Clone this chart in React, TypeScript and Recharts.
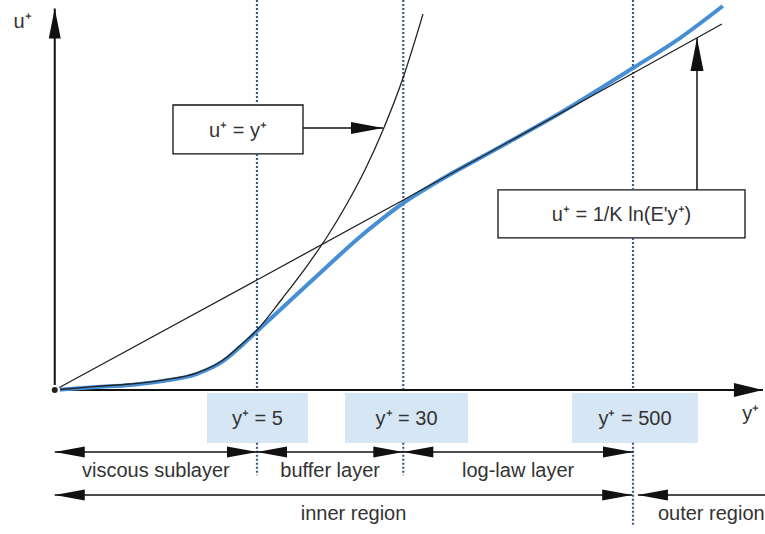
import { ComposedChart, Line, XAxis, YAxis, ReferenceLine, ReferenceArea } from 'recharts'

// y+ where the two axes meet
const ORIGIN = 0.42

// u+ = y+ (viscous sublayer law)
const viscousLaw = [
  { x: ORIGIN, y: 0 }, { x: 0.7, y: 0.3 }, { x: 1.06, y: 0.5 }, { x: 1.58, y: 0.83 },
  { x: 2.4, y: 1.42 }, { x: 3.3, y: 2.5 }, { x: 4.21, y: 3.92 }, { x: 5, y: 5 },
  { x: 6.88, y: 7.71 }, { x: 9.23, y: 10.35 }, { x: 11.8, y: 12.77 }, { x: 15.05, y: 15.52 },
  { x: 18.8, y: 18.37 }, { x: 23.4, y: 21.67 }, { x: 29.9, y: 26.0 }, { x: 38.2, y: 31.33 },
]

// u+ = 1/K ln(E y+)
const logLaw = [
  { x: ORIGIN, y: 0 }, { x: 5, y: 9.17 }, { x: 30, y: 15.83 }, { x: 500, y: 26.4 }, { x: 1487, y: 30.5 },
]

// measured velocity profile (blue)
const profile = [
  { x: ORIGIN, y: 0 }, { x: 0.7, y: 0.25 }, { x: 1.06, y: 0.42 }, { x: 1.58, y: 0.75 },
  { x: 2.4, y: 1.35 }, { x: 3.3, y: 2.4 }, { x: 4.21, y: 3.8 }, { x: 5, y: 4.9 },
  { x: 6.08, y: 6.13 }, { x: 9.23, y: 8.75 }, { x: 12.7, y: 10.75 }, { x: 17, y: 12.54 },
  { x: 22.6, y: 14.13 }, { x: 29.5, y: 15.5 }, { x: 45.3, y: 17.33 }, { x: 98, y: 20.25 },
  { x: 205, y: 23.08 }, { x: 500, y: 26.83 }, { x: 889, y: 29.33 }, { x: 1502, y: 32.0 },
]

const marks = [5, 30, 500]
const markLabels = ['y⁺ = 5', 'y⁺ = 30', 'y⁺ = 500']
const layerNames = ['viscous sublayer', 'buffer layer', 'log-law layer']
const layerBounds = [ORIGIN, 5, 30, 500]

const INK = '#111'
const TEXT = '#333'
const DOTS = '#3d5a80'
const FONT = 20

// u+ ranges hidden behind the equation boxes, per marker
const gaps: Record<number, [number, number] | null> = { 5: [19.67, 23.75], 30: null, 500: [12.67, 16.67] }

type ArrowOpts = { start?: boolean; end?: boolean; len: number; half: number; w: number }

const arrow = (o: ArrowOpts) => (p: any) => {
  const x1 = Number(p.x1), y1 = Number(p.y1), x2 = Number(p.x2), y2 = Number(p.y2)
  const dx = x2 - x1, dy = y2 - y1
  const L = Math.hypot(dx, dy) || 1
  const ux = dx / L, uy = dy / L, nx = -uy, ny = ux
  const head = (tx: number, ty: number, dir: number) => {
    const bx = tx - dir * ux * o.len, by = ty - dir * uy * o.len
    return (
      <polygon
        points={`${tx},${ty} ${bx + nx * o.half},${by + ny * o.half} ${bx - nx * o.half},${by - ny * o.half}`}
        fill={INK}
      />
    )
  }
  return (
    <g>
      <line x1={x1} y1={y1} x2={x2} y2={y2} stroke={INK} strokeWidth={o.w} />
      {o.start && head(x1, y1, -1)}
      {o.end && head(x2, y2, 1)}
    </g>
  )
}

const lbl = (value: string, position: any = 'center', offset = 0) => ({
  value, position, offset, fill: TEXT, fontSize: FONT,
})

function dottedSegments(m: number): [number, number][] {
  const g = gaps[m]
  const upper: [number, number][] = g ? [[32.5, g[1]], [g[0], 0]] : [[32.5, 0]]
  return [...upper, [-4.4, m === 500 ? -11.3 : -7.1]]
}

export default function App() {
  return (
    <div
      style={{
        position: 'absolute', left: 0, top: 0, width: 765, height: 534, background: '#fff',
        fontFamily: '"Liberation Sans", Arial, sans-serif',
      }}
    >
      <ComposedChart width={765} height={534} margin={{ top: 0, right: 0, bottom: 0, left: 0 }}>
        <XAxis type="number" dataKey="x" scale="log" domain={[0.2148, 2518]} allowDataOverflow hide />
        <YAxis type="number" dataKey="y" domain={[-12, 32.5]} allowDataOverflow hide />

        {/* dotted markers */}
        {marks.flatMap((m) =>
          dottedSegments(m).map(([a, b], i) => (
            <ReferenceLine key={`d${m}-${i}`} segment={[{ x: m, y: a }, { x: m, y: b }]}
              stroke={DOTS} strokeWidth={2.2} strokeDasharray="2 2" ifOverflow="visible" />
          )),
        )}

        {/* blue y+ boxes */}
        <ReferenceArea x1={2.71} x2={9.34} y1={-0.25} y2={-4.42} fill="#d6e6f4" fillOpacity={1} stroke="none"
          ifOverflow="visible" label={lbl(markLabels[0])} />
        <ReferenceArea x1={14.7} x2={66.3} y1={-0.25} y2={-4.42} fill="#d6e6f4" fillOpacity={1} stroke="none"
          ifOverflow="visible" label={lbl(markLabels[1])} />
        <ReferenceArea x1={237} x2={1109} y1={-0.25} y2={-4.42} fill="#d6e6f4" fillOpacity={1} stroke="none"
          ifOverflow="visible" label={lbl(markLabels[2])} />

        {/* axes */}
        <ReferenceLine segment={[{ x: ORIGIN, y: 0 }, { x: ORIGIN, y: 31.8 }]} ifOverflow="visible"
          shape={arrow({ end: true, len: 30, half: 6, w: 2 })} />
        <ReferenceLine segment={[{ x: ORIGIN, y: 0 }, { x: 2455, y: 0 }]} ifOverflow="visible"
          shape={arrow({ end: true, len: 29, half: 7, w: 2 })} />
        <ReferenceArea x1={0.25} x2={0.32} y1={30} y2={31.5} fill="none" stroke="none" ifOverflow="visible"
          label={lbl('u⁺')} />
        <ReferenceArea x1={1900} x2={2350} y1={-1.4} y2={-2.4} fill="none" stroke="none" ifOverflow="visible"
          label={lbl('y⁺')} />

        {/* equation boxes */}
        <ReferenceArea x1={1.787} x2={8.785} y1={19.67} y2={23.75} fill="#fff" fillOpacity={1} stroke={INK}
          strokeWidth={1.3} ifOverflow="visible" label={lbl('u⁺ = y⁺')} />
        <ReferenceLine segment={[{ x: 8.785, y: 21.83 }, { x: 23.4, y: 21.83 }]} ifOverflow="visible"
          shape={arrow({ end: true, len: 32, half: 6, w: 1.5 })} />
        <ReferenceArea x1={95.7} x2={1971} y1={12.67} y2={16.67} fill="#fff" fillOpacity={1} stroke={INK}
          strokeWidth={1.3} ifOverflow="visible" label={lbl("u⁺ = 1/K ln(E'y⁺)")} />
        <ReferenceLine segment={[{ x: 1095, y: 16.67 }, { x: 1095, y: 29.33 }]} ifOverflow="visible"
          shape={arrow({ end: true, len: 33, half: 6.5, w: 1.5 })} />

        {/* layers */}
        {layerNames.map((n, i) => (
          <ReferenceLine key={'la' + n} segment={[{ x: layerBounds[i], y: -5.17 }, { x: layerBounds[i + 1], y: -5.17 }]}
            ifOverflow="visible" shape={arrow({ start: true, end: true, len: 30, half: 5.5, w: 1.5 })} />
        ))}
        {layerNames.map((n, i) => (
          <ReferenceArea key={'lt' + n} x1={layerBounds[i]} x2={layerBounds[i + 1]} y1={-6.2} y2={-7.13}
            fill="none" stroke="none" ifOverflow="visible" label={lbl(n)} />
        ))}
        <ReferenceLine segment={[{ x: ORIGIN, y: -8.75 }, { x: 495, y: -8.75 }]} ifOverflow="visible"
          shape={arrow({ start: true, end: true, len: 30, half: 5.5, w: 1.5 })} />
        <ReferenceLine segment={[{ x: 531, y: -8.75 }, { x: 2518, y: -8.75 }]} ifOverflow="visible"
          shape={arrow({ start: true, len: 30, half: 5.5, w: 1.5 })} />
        <ReferenceArea x1={8.47} x2={31.4} y1={-9.8} y2={-10.7} fill="none" stroke="none" ifOverflow="visible"
          label={lbl('inner region')} />
        <ReferenceArea x1={615} x2={2518} y1={-9.8} y2={-10.7} fill="none" stroke="none" ifOverflow="visible"
          label={lbl('outer region', 'insideLeft', 8)} />

        {/* curves */}
        <Line data={profile} dataKey="y" type="monotone" stroke="#478fd4" strokeWidth={4} dot={false}
          isAnimationActive={false} />
        <Line data={viscousLaw} dataKey="y" type="monotone" stroke="#222" strokeWidth={1.3} dot={false}
          isAnimationActive={false} />
        <Line data={logLaw} dataKey="y" type="linear" stroke="#222" strokeWidth={1.3} dot={false}
          isAnimationActive={false} />
      </ComposedChart>
    </div>
  )
}
